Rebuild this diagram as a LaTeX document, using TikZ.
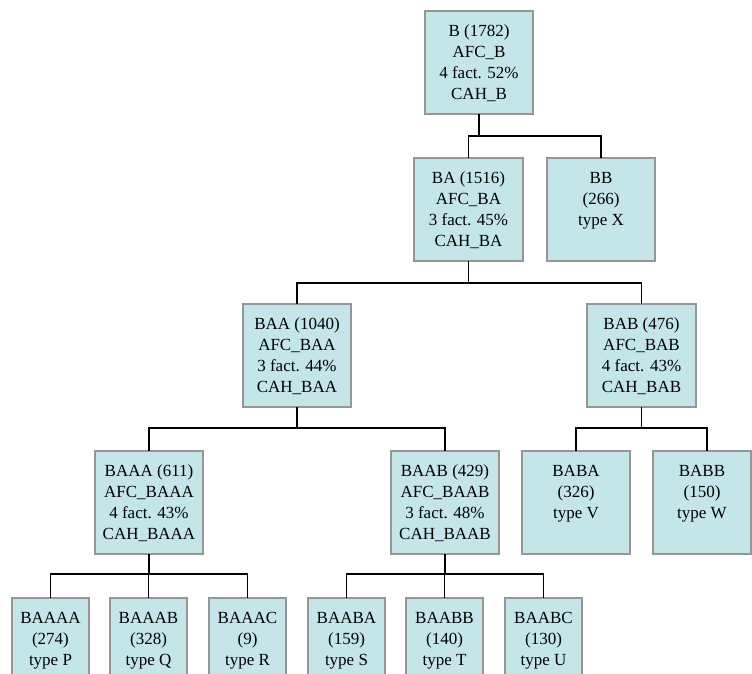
\documentclass[tikz,border=0pt]{standalone}
\usepackage{fontspec}
\setmainfont{Liberation Serif}
\usetikzlibrary{calc}
\definecolor{boxfill}{RGB}{197,230,232}
\definecolor{boxline}{RGB}{150,150,150}
\newcommand\bxtext[3]{\parbox[t][#2][t]{#1}{\centering\fontsize{17}{21}\selectfont\rule{0pt}{25pt}#3}}
\tikzset{
  cbox/.style={draw=boxline, line width=1.6pt, fill=boxfill, inner sep=0pt, outer sep=0pt, anchor=north west, rectangle},
  conn/.style={draw=black, line width=1.5pt}
}
\begin{document}
\begin{tikzpicture}[x=1pt,y=-1pt]
\useasboundingbox (0,0) rectangle (752,673);
% level 0
\node[cbox] (B) at (425,11) {\bxtext{108pt}{103pt}{B (1782)\\AFC\_B\\4 fact. 52\%\\CAH\_B}};
% level 1
\node[cbox] (BA) at (414,158) {\bxtext{109pt}{103pt}{BA (1516)\\AFC\_BA\\3 fact. 45\%\\CAH\_BA}};
\node[cbox] (BB) at (547,158) {\bxtext{108pt}{103pt}{BB\\(266)\\type X}};
% level 2
\node[cbox] (BAA) at (243,304) {\bxtext{108pt}{103pt}{BAA (1040)\\AFC\_BAA\\3 fact. 44\%\\CAH\_BAA}};
\node[cbox] (BAB) at (587,304) {\bxtext{109pt}{103pt}{BAB (476)\\AFC\_BAB\\4 fact. 43\%\\CAH\_BAB}};
% level 3
\node[cbox] (BAAA) at (95,451) {\bxtext{108pt}{103pt}{BAAA (611)\\AFC\_BAAA\\4 fact. 43\%\\CAH\_BAAA}};
\node[cbox] (BAAB) at (391,451) {\bxtext{108pt}{103pt}{BAAB (429)\\AFC\_BAAB\\3 fact. 48\%\\CAH\_BAAB}};
\node[cbox] (BABA) at (522,451) {\bxtext{108pt}{103pt}{BABA\\(326)\\type V}};
\node[cbox] (BABB) at (653,451) {\bxtext{98pt}{103pt}{BABB\\(150)\\type W}};
% level 4
\node[cbox] (BAAAA) at (12,598) {\bxtext{77pt}{100pt}{BAAAA\\(274)\\type P}};
\node[cbox] (BAAAB) at (110,598) {\bxtext{77pt}{100pt}{BAAAB\\(328)\\type Q}};
\node[cbox] (BAAAC) at (209,598) {\bxtext{77pt}{100pt}{BAAAC\\(9)\\type R}};
\node[cbox] (BAABA) at (308,598) {\bxtext{77pt}{100pt}{BAABA\\(159)\\type S}};
\node[cbox] (BAABB) at (406,598) {\bxtext{77pt}{100pt}{BAABB\\(140)\\type T}};
\node[cbox] (BAABC) at (505,598) {\bxtext{77pt}{100pt}{BAABC\\(130)\\type U}};
% connectors
\draw[conn] (B.south) -- ++(0,22) coordinate (jB);
\draw[conn] (jB) -| (BA.north);
\draw[conn] (jB) -| (BB.north);
\draw[conn] (BA.south) -- ++(0,22) coordinate (jBA);
\draw[conn] (jBA) -| (BAA.north);
\draw[conn] (jBA) -| (BAB.north);
\draw[conn] (BAA.south) -- ++(0,21) coordinate (jBAA);
\draw[conn] (jBAA) -| (BAAA.north);
\draw[conn] (jBAA) -| (BAAB.north);
\draw[conn] (BAB.south) -- ++(0,21) coordinate (jBAB);
\draw[conn] (jBAB) -| (BABA.north);
\draw[conn] (jBAB) -| ([xshift=5pt]BABB.north);
\draw[conn] (BAAA.south) -- ++(0,20) coordinate (jBAAA);
\draw[conn] (jBAAA) -| (BAAAA.north);
\draw[conn] (jBAAA) -| (BAAAB.north);
\draw[conn] (jBAAA) -| (BAAAC.north);
\draw[conn] (BAAB.south) -- ++(0,20) coordinate (jBAAB);
\draw[conn] (jBAAB) -| (BAABA.north);
\draw[conn] (jBAAB) -| (BAABB.north);
\draw[conn] (jBAAB) -| (BAABC.north);
\end{tikzpicture}
\end{document}
